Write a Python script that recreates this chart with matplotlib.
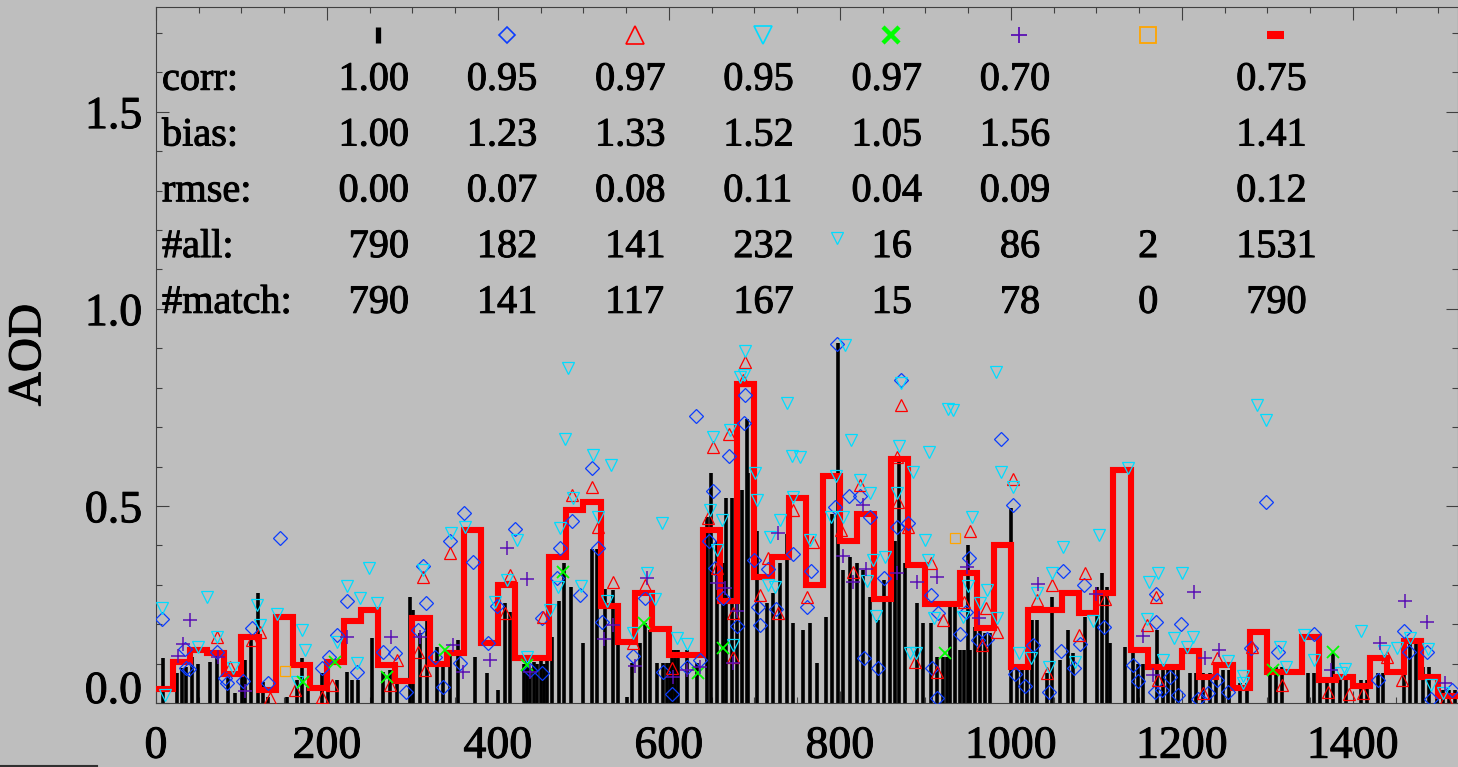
import numpy as np
import matplotlib.pyplot as plt
import matplotlib.patheffects as pe
from matplotlib.lines import Line2D
from matplotlib.ticker import MultipleLocator

plt.rcParams['font.family'] = ['Liberation Serif', 'DejaVu Serif']

BG = '#bebebe'
HEAVY = [pe.withStroke(linewidth=0.7, foreground='black')]

# matched AOD (black spikes)
spike_x = [8, 25, 30, 35, 42, 49, 63, 71, 84, 92, 101, 104, 111, 119, 125, 131, 153, 165, 171, 178,
           194, 201, 212, 223, 229, 236, 253, 266, 274, 282, 297, 301, 309, 317, 329, 336, 344, 353,
           373, 387, 400, 408, 414, 430, 434, 438, 442, 446, 450, 454, 457,
           463, 471, 477, 485, 500, 510, 516, 525, 534, 540, 551, 557, 566, 572, 578, 586, 593, 598,
           601, 604, 607, 611, 621, 633, 645, 649, 656, 663, 667, 674, 680, 686, 691, 693, 703, 715,
           722, 730, 738, 745, 757, 765, 773, 784, 791, 798, 804, 812, 820, 827, 835, 844, 851, 859,
           865, 869, 876, 890, 897, 906, 914, 920, 925,
           929, 935, 941, 945, 950, 952, 958, 964, 970, 976, 1000, 1007, 1013, 1019, 1025, 1031, 1042,
           1048, 1058, 1067, 1073, 1087, 1101, 1107, 1113, 1116, 1134, 1143, 1149, 1155, 1171, 1178,
           1184, 1190, 1196, 1210, 1217, 1225, 1233, 1240, 1248, 1255, 1268, 1276, 1303, 1310, 1317,
           1347, 1354, 1361, 1370, 1377, 1385, 1392, 1409, 1416, 1429, 1435, 1460, 1467, 1474, 1482,
           1489, 1499, 1506, 1513, 1520]
spike_y = [0.114, 0.076, 0.09, 0.091, 0.117, 0.10, 0.104, 0.13, 0.076, 0.025, 0.076, 0.109, 0.16, 0.28,
           0.053, 0.015, 0.015, 0.058, 0.114, 0.041,
           0.076, 0.033, 0.058, 0.079, 0.058, 0.058, 0.165, 0.079, 0.084, 0.051, 0.269, 0.236, 0.178,
           0.218, 0.142, 0.091, 0.135, 0.160,
           0.117, 0.076, 0.033, 0.254, 0.231, 0.10, 0.11, 0.09, 0.105, 0.10, 0.11, 0.10, 0.11,
           0.168, 0.26, 0.355, 0.294, 0.152, 0.39, 0.39, 0.29, 0.287, 0.228, 0.015, 0.102, 0.152,
           0.203, 0.185, 0.102, 0.102, 0.102,
           0.102, 0.135, 0.135, 0.135, 0.135, 0.102, 0.472, 0.584, 0.411, 0.355, 0.52, 0.52, 0.54,
           0.54, 0.72, 0.584, 0.437, 0.254,
           0.279, 0.355, 0.43, 0.203, 0.185, 0.203, 0.102, 0.218, 0.48, 0.914, 0.338, 0.371, 0.355,
           0.338, 0.269, 0.211, 0.312, 0.52,
           0.41, 0.62, 0.355, 0.254, 0.203, 0.203, 0.117, 0.117, 0.117,
           0.26, 0.26, 0.135, 0.135, 0.40, 0.135, 0.193, 0.193, 0.178, 0.178, 0.495, 0.091, 0.091,
           0.091, 0.211, 0.211, 0.076,
           0.269, 0.109, 0.185, 0.127, 0.218, 0.295, 0.33, 0.295, 0.152, 0.142, 0.127, 0.10, 0.10,
           0.185, 0.084,
           0.084, 0.084, 0.084, 0.076, 0.076, 0.076, 0.076, 0.076, 0.084, 0.084, 0.051, 0.051, 0.091,
           0.091, 0.091,
           0.076, 0.076, 0.076, 0.051, 0.127, 0.066, 0.066, 0.058, 0.058, 0.076, 0.076, 0.160, 0.160,
           0.160, 0.091,
           0.091, 0.033, 0.033, 0.033, 0.033]

# 20-day mean (red steps)
bin_edges = np.arange(0, 1541, 20)
mean_aod = [0.036, 0.105, 0.135, 0.127, 0.073, 0.168, 0.033, 0.219, 0.097, 0.037,
            0.105, 0.209, 0.237, 0.097, 0.057, 0.216, 0.10, 0.127, 0.44, 0.153,
            0.30, 0.114, 0.114, 0.37, 0.49, 0.51, 0.245, 0.155, 0.28, 0.188,
            0.122, 0.122, 0.44, 0.26, 0.81, 0.32, 0.37, 0.52, 0.30, 0.575,
            0.41, 0.48, 0.265, 0.62, 0.35, 0.25, 0.25, 0.33, 0.19, 0.40,
            0.092, 0.237, 0.237, 0.28, 0.229, 0.28, 0.59, 0.135, 0.092, 0.092,
            0.133, 0.066, 0.097, 0.038, 0.18, 0.079, 0.079, 0.168, 0.058, 0.066,
            0.043, 0.114, 0.079, 0.158, 0.066, 0.018, 0.018]

# blue diamonds
dia_x = [7, 145, 360, 371, 420, 223, 212, 235, 312, 316, 344, 399, 452, 452, 35, 71, 81, 102, 112,
         131, 194, 202, 266, 280, 293, 326, 336, 356, 388, 438, 307, 34, 39, 83,
         797, 632, 670, 689, 688, 510, 872, 651, 811, 824, 794, 473, 487, 469, 496, 517, 522, 572,
         558, 593, 604, 621, 636, 647, 654, 663, 680, 700, 716, 704, 707, 725, 745, 766, 762, 851,
         835, 828, 844, 867, 880, 906, 908, 914, 915,
         988, 1002, 1298, 951, 947, 941, 961, 972, 1026, 1016, 1005, 1044, 1061, 1086, 1059, 1074,
         1081, 1109, 1170, 1170, 1199, 1143, 1149, 1168, 1177, 1196, 1186, 1219, 1231, 1241, 1254,
         1281, 1313, 1354, 1430, 1460, 1466, 1491, 1487, 1516]
dia_y = [0.213, 0.419, 0.483, 0.358, 0.442, 0.259, 0.173, 0.079, 0.348, 0.254, 0.411, 0.246, 0.216,
         0.076, 0.089, 0.129, 0.063, 0.056, 0.190, 0.051, 0.089, 0.117, 0.129, 0.127, 0.028, 0.117,
         0.041, 0.102, 0.152, 0.084, 0.185, 0.137, 0.086, 0.051,
         0.911, 0.728, 0.627, 0.782, 0.711, 0.596, 0.820, 0.538, 0.525, 0.525, 0.497, 0.393, 0.462,
         0.317, 0.274, 0.393, 0.206, 0.266, 0.119, 0.079, 0.023, 0.091, 0.109, 0.411, 0.343, 0.266,
         0.195, 0.363, 0.340, 0.244, 0.198, 0.239, 0.378, 0.335, 0.244, 0.317, 0.472, 0.114, 0.089,
         0.447, 0.457, 0.274, 0.089, 0.013, 0.228,
         0.670, 0.503, 0.510, 0.368, 0.231, 0.175, 0.160, 0.162, 0.147, 0.043, 0.074, 0.028, 0.335,
         0.299, 0.132, 0.089, 0.150, 0.193, 0.277, 0.206, 0.201, 0.096, 0.056, 0.028, 0.033, 0.020,
         0.066, 0.010, 0.025, 0.058, 0.028, 0.140, 0.129, 0.175, 0.058, 0.183, 0.129, 0.010, 0.129,
         0.033]

# red triangles
tri_x = [71, 112, 312, 344, 408, 414, 453, 163, 133, 194, 206, 282, 274, 315, 307, 87, 122,
         487, 510, 517, 535, 572, 558, 604, 651, 670, 689, 687, 646, 656, 675, 675, 707, 716, 727,
         745, 768, 762, 801, 815, 824, 872, 867, 880, 906, 921, 888, 914, 868,
         952, 1002, 945, 971, 966, 984, 1030, 1048, 1087, 1080, 1042, 1110, 1170, 1159, 1172, 1225,
         1241, 1282, 1317, 1371, 1395, 1412, 1440, 1458, 1509]
tri_y = [0.168, 0.160, 0.320, 0.381, 0.228, 0.325, 0.218, 0.033, 0.013, 0.015, 0.046, 0.109, 0.046,
         0.084, 0.129, 0.091, 0.180,
         0.528, 0.548, 0.447, 0.307, 0.299, 0.152, 0.089, 0.650, 0.683, 0.865, 0.820, 0.470, 0.343,
         0.228, 0.117, 0.274, 0.368, 0.228, 0.490, 0.409, 0.269, 0.439, 0.332, 0.553, 0.756, 0.624,
         0.447, 0.355, 0.211, 0.104, 0.079, 0.510,
         0.437, 0.569, 0.256, 0.241, 0.147, 0.180, 0.261, 0.299, 0.330, 0.173, 0.076, 0.264, 0.269,
         0.198, 0.058, 0.025, 0.114, 0.142, 0.046, 0.028, 0.023, 0.025, 0.117, 0.058, 0.013]

# cyan inverted triangles
inv_x = [7, 60, 118, 142, 171, 71, 223, 239, 249, 259, 345, 362, 411, 422, 461, 397, 312, 174, 90,
         235, 165, 11, 49, 212, 122, 434,
         482, 479, 511, 532, 592, 689, 688, 683, 651, 672, 738, 744, 753, 806, 813, 869, 872, 904,
         824, 835, 796, 789, 804, 745, 730, 718, 885, 867, 900, 927, 648, 662, 656, 703, 701, 473,
         488, 497, 470, 517, 528, 574, 584, 558, 610, 621, 675, 716, 724, 765, 839, 842, 832, 853,
         882, 903, 910, 889, 797,
         932, 982, 989, 1002, 954, 972, 950, 984, 964, 944, 1009, 1023, 1061, 1103, 1048, 1030, 1096,
         1075, 1044, 1137, 1172, 1162, 1200, 1159, 1191, 1213, 1206, 1178, 1254, 1271, 1272, 1315,
         1409, 1354, 1343, 1436, 1452, 1467, 1488, 1491, 1506, 1288, 1298, 1322, 1386, 1391]
inv_y = [0.241, 0.269, 0.249, 0.226, 0.185, 0.168, 0.297, 0.266, 0.343, 0.254, 0.431, 0.447, 0.312,
         0.414, 0.236, 0.256, 0.338, 0.135, 0.089, 0.102, 0.053, 0.020, 0.142, 0.155, 0.198, 0.117,
         0.850, 0.670, 0.629, 0.604, 0.457, 0.893, 0.832, 0.827, 0.675, 0.693, 0.761, 0.627, 0.624,
         0.909, 0.668, 0.652, 0.812, 0.637, 0.566, 0.533, 0.576, 0.472, 0.472, 0.523, 0.464, 0.421,
         0.586, 0.533, 0.414, 0.746, 0.490, 0.464, 0.388, 0.515, 0.584, 0.444, 0.520, 0.297, 0.294,
         0.472, 0.259, 0.330, 0.264, 0.178, 0.165, 0.150, 0.147, 0.299, 0.294, 0.414, 0.363, 0.221,
         0.310, 0.371, 0.127, 0.363, 0.216, 0.127, 1.18,
         0.744, 0.84, 0.586, 0.548, 0.472, 0.287, 0.297, 0.216, 0.254, 0.218, 0.127, 0.114, 0.396,
         0.426, 0.330, 0.279, 0.208, 0.104, 0.091, 0.596, 0.330, 0.307, 0.330, 0.213, 0.165, 0.168,
         0.142, 0.109, 0.107, 0.069, 0.051, 0.142, 0.183, 0.109, 0.173, 0.132, 0.140, 0.165, 0.137,
         0.046, 0.025, 0.756, 0.718, 0.091, 0.076, 0.086]

# green crosses
crs_x = [172, 270, 338, 434, 209, 476, 571, 663, 634, 923, 1377, 1307]
crs_y = [0.053, 0.066, 0.135, 0.096, 0.104, 0.332, 0.203, 0.140, 0.076, 0.127, 0.129, 0.084]

# purple pluses
pls_x = [40, 32, 26, 73, 104, 223, 275, 411, 434, 391, 438, 359, 347, 309,
         727, 827, 831, 815, 804, 867, 890, 914, 680, 675, 666, 656, 574, 560, 524, 535, 605, 621, 636,
         1032, 949, 963, 1099, 1214, 1154, 1166, 1432, 1461, 1487, 1374, 1227, 1243, 1508]
pls_y = [0.211, 0.150, 0.119, 0.117, 0.030, 0.168, 0.168, 0.393, 0.315, 0.109, 0.079, 0.079, 0.147,
         0.168,
         0.431, 0.503, 0.340, 0.307, 0.373, 0.330, 0.307, 0.320, 0.234, 0.102, 0.292, 0.305, 0.317,
         0.094, 0.162, 0.198, 0.066, 0.084, 0.091,
         0.302, 0.345, 0.216, 0.277, 0.282, 0.170, 0.071, 0.152, 0.259, 0.206, 0.084, 0.114, 0.135,
         0.051]

# orange squares
sqr_x = [151, 935]
sqr_y = [0.081, 0.419]

# statistics table
row_names = ['corr:', 'bias:', 'rmse:', '#all:', '#match:']
corr = [1.00, 0.95, 0.97, 0.95, 0.97, 0.70, None, 0.75]
bias = [1.00, 1.23, 1.33, 1.52, 1.05, 1.56, None, 1.41]
rmse = [0.00, 0.07, 0.08, 0.11, 0.04, 0.09, None, 0.12]
n_all = [790, 182, 141, 232, 16, 86, 2, 1531]
n_match = [790, 141, 117, 167, 15, 78, 0, 790]

fig = plt.figure(figsize=(14.58, 7.67), dpi=100, facecolor=BG)
ax = fig.add_axes([156 / 1458, 64 / 767, 1302 / 1458, 696 / 767], facecolor=BG)

ax.vlines(spike_x, 0, spike_y, colors='black', lw=2.6, zorder=2)
ax.stairs(mean_aod, bin_edges, baseline=None, color='red', lw=4.4, zorder=3)

mk = dict(ls='none', mew=0.9, zorder=4)
ax.plot(dia_x, dia_y, marker='D', ms=7.5, mfc='none', mec='#0a3cff', **mk)
ax.plot(tri_x, tri_y, marker='^', ms=9, mfc='none', mec='red', **mk)
ax.plot(inv_x, inv_y, marker='v', ms=9, mfc='none', mec='#00dcff', **mk)
ax.plot(crs_x, crs_y, marker='x', ms=8, mec='#00ff00', ls='none', mew=1.3, zorder=4)
ax.plot(pls_x, pls_y, marker='+', ms=10, mec='#5a10b4', ls='none', mew=1.1, zorder=4)
ax.plot(sqr_x, sqr_y, marker='s', ms=7.5, mfc='none', mec='#ffa500', **mk)

# table header symbols
sym_x = [260 + 150 * i for i in range(8)]
sym_y = 1.695
ax.plot([sym_x[0]] * 2, [sym_y - 0.02, sym_y + 0.02], color='black', lw=3.8, solid_capstyle='butt')
ax.plot(sym_x[1], sym_y, marker='D', ms=8.5, mfc='none', mec='#0a3cff', mew=1.2)
ax.plot(sym_x[2], sym_y, marker='^', ms=12.5, mfc='none', mec='red', mew=1.2)
ax.plot(sym_x[3], sym_y, marker='v', ms=12.5, mfc='none', mec='#00dcff', mew=1.2)
ax.plot(sym_x[4], sym_y, marker='x', ms=11, mec='#00ff00', mew=3.2)
ax.plot(sym_x[5], sym_y, marker='+', ms=12, mec='#5a10b4', mew=1.3)
ax.plot(sym_x[6], sym_y, marker='s', ms=12, mfc='none', mec='#ffa500', mew=1.3)
ax.plot([sym_x[7] - 10, sym_x[7] + 10], [sym_y] * 2, color='red', lw=5.8, solid_capstyle='butt')

# table text
col_x = [190 + 150 * i for i in range(8)]
row_y = [1.556 - 0.1415 * i for i in range(5)]
tfs = 29
for name, y in zip(row_names, row_y):
    ax.text(7, y, name, fontsize=tfs, va='baseline', ha='left', path_effects=HEAVY)
for i, x in enumerate(col_x):
    for vals, y in zip([corr, bias, rmse], row_y[:3]):
        if vals[i] is not None:
            ax.text(x, y, f'{vals[i]:6.2f}', fontsize=tfs, va='baseline', ha='left',
                    path_effects=HEAVY)
    ax.text(x, row_y[3], f'{n_all[i]:6d}', fontsize=tfs, va='baseline', ha='left',
            path_effects=HEAVY)
    ax.text(x, row_y[4], f'{n_match[i]:6d}', fontsize=tfs, va='baseline', ha='left',
            path_effects=HEAVY)

ax.set_xlim(0, 1523)
ax.set_ylim(0, 1.766)
ax.set_xticks(np.arange(0, 1401, 200))
ax.set_xticklabels([str(v) for v in range(0, 1401, 200)])
ax.set_yticks([0, 0.5, 1.0, 1.5])
ax.set_yticklabels(['0.0', '0.5', '1.0', '1.5'])
ax.xaxis.set_minor_locator(MultipleLocator(50))
ax.yaxis.set_minor_locator(MultipleLocator(0.1))
ax.tick_params(which='both', direction='in', top=True, right=True, color='#404040', width=0.8)
ax.tick_params(which='major', length=9, labelsize=33)
ax.tick_params(which='minor', length=4.5)
ax.tick_params(axis='x', pad=16)
ax.tick_params(axis='y', pad=10)
ax.get_yticklabels()[0].set_verticalalignment('baseline')
for lab in ax.get_xticklabels() + ax.get_yticklabels():
    lab.set_path_effects(HEAVY)
for s in ax.spines.values():
    s.set_color('#404040')
    s.set_linewidth(0.8)

fig.text(29 / 1458, 1 - 355 / 767, 'AOD', fontsize=34, rotation=90, ha='center', va='center',
         path_effects=HEAVY)
fig.add_artist(Line2D([0, 97 / 1458], [1 / 767, 1 / 767], color='#303030', lw=1.5))

fig.savefig('out.png', dpi=100, facecolor=BG)
